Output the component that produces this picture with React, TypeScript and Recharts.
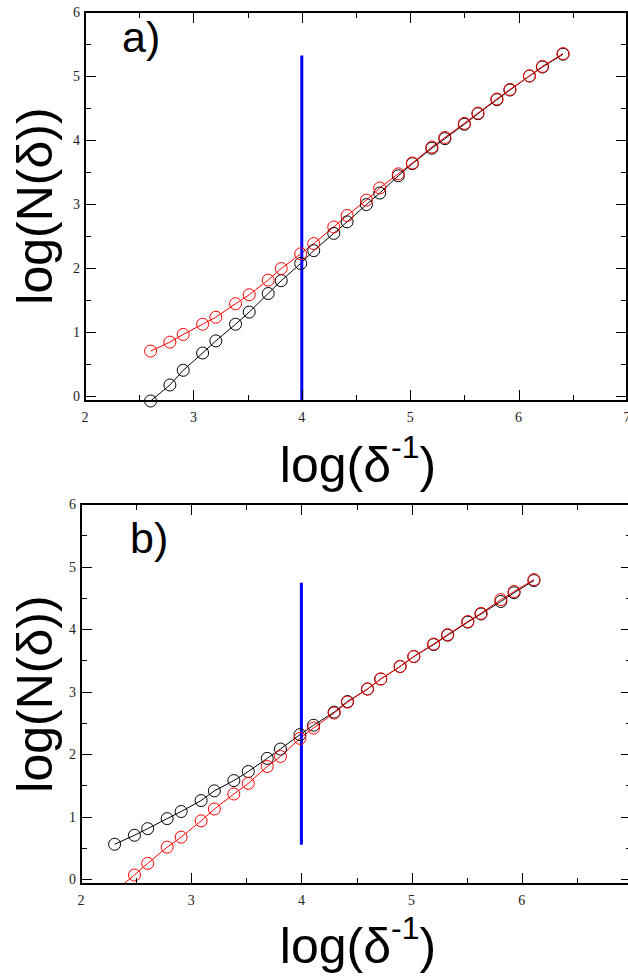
import React from 'react';
import { ComposedChart, Line, XAxis, YAxis, ReferenceLine, ReferenceArea } from 'recharts';

// ---- Data ----
const X_A = [2.605, 2.783, 2.906, 3.085, 3.207, 3.389, 3.515, 3.69, 3.81, 3.99, 4.11, 4.295, 4.418, 4.596, 4.719, 4.89, 5.02, 5.2, 5.32, 5.5, 5.625, 5.8, 5.92, 6.1, 6.22, 6.41];
const BLACK_A = [-0.08, 0.17, 0.4, 0.67, 0.86, 1.12, 1.31, 1.6, 1.8, 2.07, 2.27, 2.54, 2.72, 2.99, 3.17, 3.44, 3.63, 3.87, 4.02, 4.245, 4.41, 4.63, 4.78, 5.0, 5.14, 5.34];
const RED_A = [0.7, 0.84, 0.96, 1.12, 1.23, 1.44, 1.58, 1.81, 1.99, 2.22, 2.38, 2.64, 2.82, 3.06, 3.25, 3.47, 3.64, 3.89, 4.04, 4.26, 4.42, 4.64, 4.79, 5.0, 5.15, 5.35];

const X_B = [2.305, 2.485, 2.605, 2.782, 2.909, 3.09, 3.21, 3.387, 3.518, 3.69, 3.81, 3.987, 4.11, 4.297, 4.418, 4.6, 4.72, 4.896, 5.02, 5.2, 5.327, 5.51, 5.63, 5.81, 5.93, 6.11];
const BLACK_B = [0.556, 0.7, 0.806, 0.966, 1.08, 1.255, 1.41, 1.575, 1.72, 1.93, 2.08, 2.31, 2.46, 2.67, 2.84, 3.04, 3.2, 3.4, 3.56, 3.75, 3.9, 4.11, 4.24, 4.44, 4.58, 4.775];
const RED_B = [-0.2, 0.064, 0.25, 0.51, 0.67, 0.93, 1.12, 1.36, 1.53, 1.8, 1.96, 2.25, 2.415, 2.655, 2.83, 3.04, 3.2, 3.4, 3.56, 3.76, 3.91, 4.12, 4.25, 4.47, 4.6, 4.79];

const BLUE_X = 4;
const BLUE_A = [-0.08, 5.32];
const BLUE_B = [0.55, 4.74];

const X_DOMAIN: [number, number] = [2, 7];
const Y_DOMAIN: [number, number] = [-0.08, 6];
const X_TICKS = [2, 2.5, 3, 3.5, 4, 4.5, 5, 5.5, 6, 6.5, 7];
const Y_TICKS = [0, 0.5, 1, 1.5, 2, 2.5, 3, 3.5, 4, 4.5, 5, 5.5, 6];

const PANEL_LABELS = ['a)', 'b)'];
const Y_TITLE = 'log(N(δ))';

const DATA_A_BLACK = X_A.map((x, i) => ({ x, y: BLACK_A[i] }));
const DATA_A_RED = X_A.map((x, i) => ({ x, y: RED_A[i] }));
const DATA_B_BLACK = X_B.map((x, i) => ({ x, y: BLACK_B[i] }));
const DATA_B_RED = X_B.map((x, i) => ({ x, y: RED_B[i] }));

const SERIF = '"Liberation Serif", "DejaVu Serif", serif';
const SANS = '"Liberation Sans", Arial, sans-serif';

const AXIS_SIZE = 30;
const CHART_W = 640;

const PLOT_A = { top: 12, right: 13, bottom: 89, left: 85 };
const PLOT_B = { top: 14, right: 8, bottom: 95, left: 81 };
const H_A = 490;
const H_B = 489;
const TOP_B = 490;
const MARGIN_A = { top: PLOT_A.top, right: PLOT_A.right, bottom: PLOT_A.bottom - AXIS_SIZE, left: PLOT_A.left - AXIS_SIZE };
const MARGIN_B = { top: PLOT_B.top, right: PLOT_B.right, bottom: PLOT_B.bottom - AXIS_SIZE, left: PLOT_B.left - AXIS_SIZE };

const isMajor = (v: number) => Math.abs(v - Math.round(v)) < 1e-6;

const XTick = (props: any) => {
  const { x, y, payload } = props;
  const v = payload.value;
  if (!isMajor(v)) return <g />;
  return (
    <text x={x} y={y + 21} textAnchor="middle" fontFamily={SERIF} fontSize={14} fill="#222">
      {v}
    </text>
  );
};

const YTick = (props: any) => {
  const { x, y, payload } = props;
  const v = payload.value;
  if (!isMajor(v)) return <g />;
  return (
    <text x={x - 5} y={y + 5} textAnchor="end" fontFamily={SERIF} fontSize={14} fill="#222">
      {v}
    </text>
  );
};

const dotFor = (color: string) => (props: any) => {
  const { cx, cy, payload, index } = props;
  if (payload.y < Y_DOMAIN[0] - 1e-9) return <g key={`d${index}`} />;
  return <circle key={`d${index}`} cx={cx} cy={cy} r={6} fill="none" stroke={color} strokeWidth={1} />;
};
const BLACK_DOT = dotFor('#000');
const RED_DOT = dotFor('#ff0000');

const Axes = ({ clip }: { clip: boolean }) => null;

const PanelA = () => (
  <ComposedChart width={CHART_W} height={H_A} margin={MARGIN_A}>
    <XAxis type="number" dataKey="x" domain={X_DOMAIN} ticks={X_TICKS} interval={0} height={AXIS_SIZE} axisLine={false} tickLine={false} tickSize={0} tickMargin={0} tick={XTick} />
    <YAxis type="number" domain={Y_DOMAIN} ticks={Y_TICKS} interval={0} width={AXIS_SIZE} axisLine={false} tickLine={false} tickSize={0} tickMargin={0} tick={YTick} />
    <ReferenceArea x1={X_DOMAIN[0]} x2={X_DOMAIN[1]} y1={Y_DOMAIN[0]} y2={Y_DOMAIN[1]} fill="#ffffff" fillOpacity={0} stroke="#000000" strokeWidth={1.5} ifOverflow="visible" />
    <Line data={DATA_A_BLACK} dataKey="y" stroke="#000" strokeWidth={1} dot={BLACK_DOT} isAnimationActive={false} />
    <Line data={DATA_A_RED} dataKey="y" stroke="#ff0000" strokeWidth={1} dot={RED_DOT} isAnimationActive={false} />
    <ReferenceLine segment={[{ x: BLUE_X, y: BLUE_A[0] }, { x: BLUE_X, y: BLUE_A[1] }]} stroke="#0000ff" strokeWidth={3} ifOverflow="visible" />
  </ComposedChart>
);

const PanelB = () => (
  <ComposedChart width={CHART_W} height={H_B} margin={MARGIN_B}>
    <XAxis type="number" dataKey="x" domain={X_DOMAIN} ticks={X_TICKS} interval={0} height={AXIS_SIZE} axisLine={false} tickLine={false} tickSize={0} tickMargin={0} tick={XTick} />
    <YAxis type="number" domain={Y_DOMAIN} ticks={Y_TICKS} interval={0} width={AXIS_SIZE} axisLine={false} tickLine={false} tickSize={0} tickMargin={0} tick={YTick} allowDataOverflow />
    <ReferenceArea x1={X_DOMAIN[0]} x2={X_DOMAIN[1]} y1={Y_DOMAIN[0]} y2={Y_DOMAIN[1]} fill="#ffffff" fillOpacity={0} stroke="#000000" strokeWidth={1.5} ifOverflow="visible" />
    <Line data={DATA_B_BLACK} dataKey="y" stroke="#000" strokeWidth={1} dot={BLACK_DOT} isAnimationActive={false} />
    <Line data={DATA_B_RED} dataKey="y" stroke="#ff0000" strokeWidth={1} dot={RED_DOT} isAnimationActive={false} />
    <ReferenceLine segment={[{ x: BLUE_X, y: BLUE_B[0] }, { x: BLUE_X, y: BLUE_B[1] }]} stroke="#0000ff" strokeWidth={3} ifOverflow="visible" />
  </ComposedChart>
);

// Inward major/minor ticks on all four sides (same linear mapping as the chart axes), as HTML bars
const TickMarks = ({ plot, height, offsetY }: { plot: typeof PLOT_A; height: number; offsetY: number }) => {
  const left = plot.left;
  const top = offsetY + plot.top;
  const w = CHART_W - plot.left - plot.right;
  const h = height - plot.top - plot.bottom;
  const sx = (v: number) => left + ((v - X_DOMAIN[0]) / (X_DOMAIN[1] - X_DOMAIN[0])) * w;
  const sy = (v: number) => top + ((Y_DOMAIN[1] - v) / (Y_DOMAIN[1] - Y_DOMAIN[0])) * h;
  const bars: React.ReactNode[] = [];
  const bar = (key: string, x: number, y: number, bw: number, bh: number) =>
    bars.push(<div key={key} style={{ position: 'absolute', left: x, top: y, width: bw, height: bh, background: '#000' }} />);
  bar('ft', left - 1, top - 1, w + 2, 2);
  bar('fb', left - 1, top + h - 1, w + 2, 2);
  bar('fl', left - 1, top - 1, 2, h + 2);
  bar('fr', left + w - 1, top - 1, 2, h + 2);
  X_TICKS.forEach((v, i) => {
    const len = isMajor(v) ? 11 : 6;
    const x = Math.round(sx(v));
    bar(`xb${i}`, x, top + h - len, 1, len);
    bar(`xt${i}`, x, top, 1, len);
  });
  Y_TICKS.forEach((v, i) => {
    const len = isMajor(v) ? 11 : 6;
    const y = Math.round(sy(v));
    bar(`yl${i}`, left, y, len, 1);
    bar(`yr${i}`, left + w - len, y, len, 1);
  });
  return <>{bars}</>;
};

const XTitle = ({ cx, baseline }: { cx: number; baseline: number }) => (
  <text x={cx} y={baseline} textAnchor="middle" fontFamily={SANS} fontSize={50} fill="#000">
    log(δ
    <tspan fontSize={32} dy={-24}>-1</tspan>
    <tspan dy={24}>)</tspan>
  </text>
);

const YTitle = ({ x, cy }: { x: number; cy: number }) => (
  <text x={x} y={cy} textAnchor="middle" fontFamily={SANS} fontSize={50} fill="#000" transform={`rotate(-90 ${x} ${cy})`}>
    {Y_TITLE}
  </text>
);

export default function App() {
  return (
    <div style={{ position: 'absolute', left: 0, top: 0, width: 628, height: 979, overflow: 'hidden', background: '#fff' }}>
      <div style={{ position: 'absolute', left: 0, top: 0 }}>
        <PanelA />
      </div>
      <div style={{ position: 'absolute', left: 0, top: TOP_B }}>
        <PanelB />
      </div>
      <TickMarks plot={PLOT_A} height={H_A} offsetY={0} />
      <TickMarks plot={PLOT_B} height={H_B} offsetY={TOP_B} />
      <svg width={628} height={979} style={{ position: 'absolute', left: 0, top: 0, pointerEvents: 'none' }}>
        <text x={122} y={52} fontFamily={SANS} fontSize={43} fill="#000">{PANEL_LABELS[0]}</text>
        <text x={130} y={553} fontFamily={SANS} fontSize={43} fill="#000">{PANEL_LABELS[1]}</text>
        <XTitle cx={358} baseline={482} />
        <XTitle cx={358} baseline={963} />
        <YTitle x={52} cy={206} />
        <YTitle x={52} cy={694} />
      </svg>
    </div>
  );
}
